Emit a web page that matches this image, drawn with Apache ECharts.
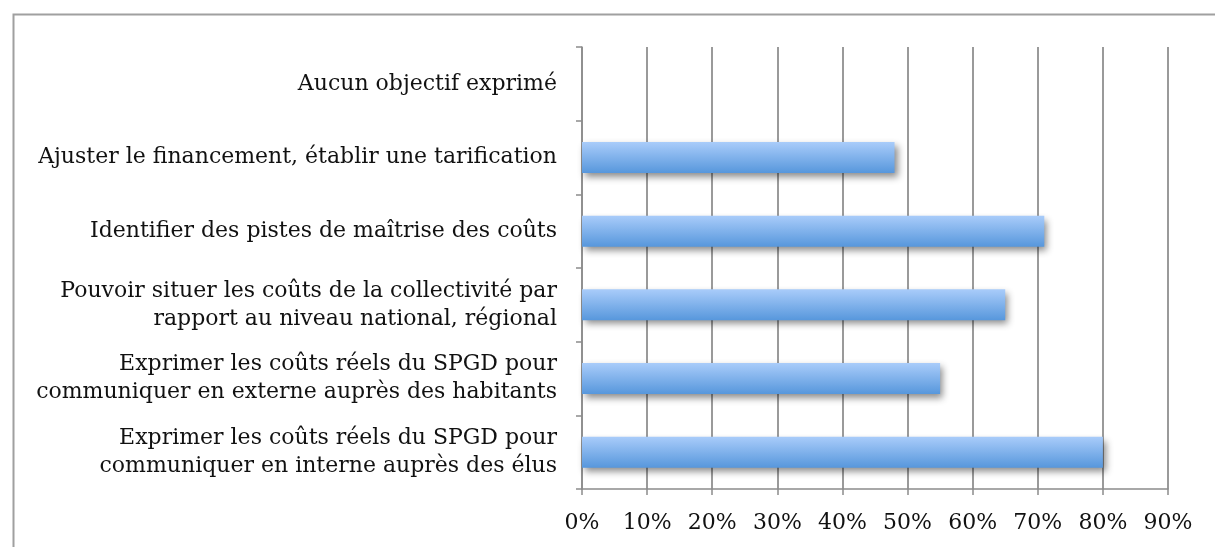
<!DOCTYPE html>
<html>
<head>
<meta charset="utf-8">
<script src="https://cdn.jsdelivr.net/npm/echarts@6/dist/echarts.min.js"></script>
<style>
  html, body { margin: 0; padding: 0; background: #fff; }
  #chart { width: 1215px; height: 547px; }
</style>
</head>
<body>
<div id="chart"></div>
<script>
// categories, bottom to top
var categories = [
  'Exprimer les coûts réels du SPGD pour\ncommuniquer en interne auprès des élus',
  'Exprimer les coûts réels du SPGD pour\ncommuniquer en externe auprès des habitants',
  'Pouvoir situer les coûts de la collectivité par\nrapport au niveau national, régional',
  'Identifier des pistes de maîtrise des coûts',
  'Ajuster le financement, établir une tarification',
  'Aucun objectif exprimé'
]
var values = [80, 55, 65, 71, 48, 0]

var myChart = echarts.init(document.getElementById('chart'))
var labelFont = '"DejaVu Serif", "Liberation Serif", serif'

var options = {
  animation: false,
  graphic: [{
    type: 'rect',
    left: 11, top: 12,
    shape: { width: 1230, height: 560 },
    style: { fill: 'none', stroke: '#a0a0a0', lineWidth: 2 },
    silent: true
  }],
  grid: {
    left: 582,
    right: 47,
    top: 47,
    bottom: 58,
    containLabel: false
  },
  xAxis: {
    type: 'value',
    min: 0,
    max: 90,
    interval: 10,
    axisLine: { show: true, lineStyle: { color: '#8c8c8c', width: 1.5 } },
    axisTick: { show: true, length: 6, lineStyle: { color: '#8c8c8c', width: 1.5 } },
    axisLabel: {
      formatter: '{value}%',
      color: '#111',
      fontFamily: labelFont,
      fontSize: 22,
      margin: 23
    },
    splitLine: { show: true, lineStyle: { color: '#9a9a9a', width: 2 } }
  },
  yAxis: {
    type: 'category',
    data: categories,
    axisLine: { show: true, lineStyle: { color: '#8c8c8c', width: 1.5 } },
    axisTick: { show: true, length: 6, lineStyle: { color: '#8c8c8c', width: 1.5 } },
    axisLabel: {
      color: '#111',
      fontFamily: labelFont,
      fontSize: 22,
      lineHeight: 28,
      margin: 25,
      align: 'right'
    }
  },
  series: [{
    type: 'bar',
    data: values,
    barCategoryGap: '58%',
    itemStyle: {
      color: new echarts.graphic.LinearGradient(0, 0, 0, 1, [
        { offset: 0, color: '#a9ccfa' },
        { offset: 1, color: '#5797dc' }
      ]),
      shadowColor: 'rgba(0,0,0,0.45)',
      shadowBlur: 7,
      shadowOffsetX: 3,
      shadowOffsetY: 4
    }
  }]
}
myChart.setOption(options)
window.addEventListener('resize', myChart.resize)
</script>
</body>
</html>
